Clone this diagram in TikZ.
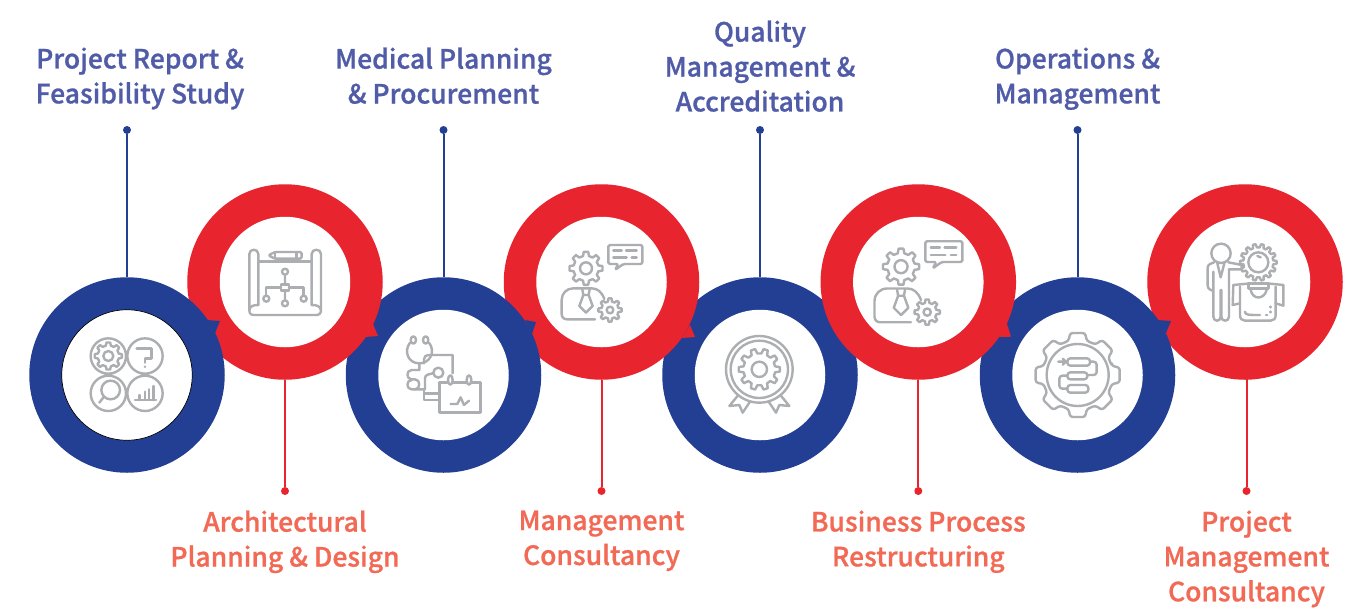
\documentclass[tikz,border=0pt]{standalone}
\usepackage{fontspec}
\newfontfamily\labfont[FakeBold=0.9]{Noto Sans CJK SC Medium}
\definecolor{ringblue}{HTML}{233F93}
\definecolor{ringred}{HTML}{E8242F}
\definecolor{textblue}{HTML}{505CA8}
\definecolor{textred}{HTML}{F26A55}
\definecolor{icongray}{HTML}{ACAEB1}
\tikzset{
  bluedisc/.style={circle,fill=ringblue,minimum size=195.5pt,inner sep=0pt},
  reddisc/.style={circle,fill=ringred,minimum size=195.5pt,inner sep=0pt},
  holedisc/.style={circle,fill=white,minimum size=130.5pt,inner sep=0pt},
  bluedot/.style={circle,fill=ringblue,minimum size=8pt,inner sep=0pt},
  reddot/.style={circle,fill=ringred,minimum size=8pt,inner sep=0pt},
  blueline/.style={draw=ringblue,line width=2pt},
  redline/.style={draw=ringred,line width=2pt},
  lab/.style={anchor=north,align=center,inner sep=0pt,
    font=\labfont\fontsize{26.5}{34.9}\selectfont,execute at begin node=\strut},
  bluelab/.style={lab,text=textblue},
  redlab/.style={lab,text=textred},
  icon/.style={draw=icongray,line width=2.4pt,line join=round,line cap=round,fill=none}
}
% gear centred at (#1,#2): outer radius #3, root radius #4, #5 teeth, hole radius #6
\newcommand{\gearicon}[6]{%
  \begin{scope}[shift={(#1,#2)}]
    \pgfmathsetmacro{\gstep}{360/#5}
    \pgfmathsetmacro{\gw}{\gstep*0.30}
    \pgfmathsetmacro{\gv}{\gstep*0.17}
    \draw[icon] (-\gw:#4)
      \foreach \gi in {1,...,#5}{
        -- ({(\gi-1)*\gstep-\gv}:#3) -- ({(\gi-1)*\gstep+\gv}:#3) -- ({(\gi-1)*\gstep+\gw}:#4) -- ({\gi*\gstep-\gw}:#4)
      } -- cycle;
    \draw[icon] (0,0) circle (#6);
  \end{scope}}
\newcommand{\personicon}{%
  \gearicon{678}{205}{50}{38}{8}{18}
  \gearicon{750}{330}{35}{26}{8}{10}
  \draw[icon] (705,358) -- (622,358) .. controls (611,358) and (605,352) .. (605,342) -- (605,300) .. controls (605,280) and (620,265) .. (640,265) -- (695,265) .. controls (712,265) and (725,275) .. (733,297);
  \draw[icon] (667,268) -- (670,285) -- (686,285) -- (689,268);
  \draw[icon] (670,285) -- (658,318) -- (678,338) -- (698,318) -- (686,285);
  \draw[icon,rounded corners=1.5pt] (775,192) -- (745,192) -- (745,135) -- (847,135) -- (847,192) -- (790,192) -- (765,210) -- cycle;
  \draw[icon] (760,152) -- (785,152) (798,152) -- (830,152) (760,173) -- (800,173) (815,173) -- (830,173);
}
\begin{document}
\begin{tikzpicture}[x=1pt,y=-1pt]
\useasboundingbox (0,0) rectangle (1371,614);
% discs, drawn so that each lies over the right neighbour
\node[bluedisc] (b3) at (760,375) {};
\node[reddisc] (r2) at (601.5,282) {};
\fill[ringred] (690,325) -- (695,337) -- (682,338) -- cycle;
\node[bluedisc] (b2) at (443.5,375) {};
\fill[ringblue] (525,320) -- (536,322) -- (532,334) -- cycle;
\node[reddisc] (r1) at (285,282) {};
\fill[ringred] (373,324) -- (378,336) -- (365,337) -- cycle;
\node[bluedisc] (b1) at (127,375) {};
\fill[ringblue] (207,320) -- (220,321) -- (215,333) -- cycle;
\node[reddisc] (r4) at (1245,282) {};
\node[bluedisc] (b4) at (1077.5,375) {};
\fill[ringblue] (1158,320) -- (1171,321) -- (1166,333) -- cycle;
\node[reddisc] (r3) at (918.3,282) {};
\fill[ringred] (1006.7,323) -- (1011,336.7) -- (998,337) -- cycle;
% holes
\node[holedisc,draw=black,line width=0.7pt] (h1) at (b1) {};
\node[holedisc] (h2) at (b2) {};
\node[holedisc] (h3) at (b3) {};
\node[holedisc] (h4) at (b4) {};
\node[holedisc] (k1) at (r1) {};
\node[holedisc] (k2) at (r2) {};
\node[holedisc] (k3) at (r3) {};
\node[holedisc] (k4) at (r4) {};
% stems
\node[bluedot] (dt1) at (127,130) {};
\node[bluedot] (dt2) at (443.5,130) {};
\node[bluedot] (dt3) at (760,130) {};
\node[bluedot] (dt4) at (1077.5,130) {};
\node[reddot] (db1) at (285,491) {};
\node[reddot] (db2) at (601.5,491) {};
\node[reddot] (db3) at (918.3,491) {};
\node[reddot] (db4) at (1246.5,491) {};
\draw[blueline] (dt1) -- (b1);
\draw[blueline] (dt2) -- (b2);
\draw[blueline] (dt3) -- (b3);
\draw[blueline] (dt4) -- (b4);
\draw[redline] (db1) -- (r1);
\draw[redline] (db2) -- (r2);
\draw[redline] (db3) -- (r3);
\coordinate (r4foot) at (1246.5,378);
\draw[redline] (db4) -- (r4foot);
% labels
\node[bluelab] (t1) at (140,47.3) {Project Report \&\\Feasibility Study};
\node[bluelab] (t2) at (443.5,47.3) {Medical Planning\\\& Procurement};
\node[bluelab] (t3) at (760,20.3) {Quality\\Management \&\\Accreditation};
\node[bluelab] (t4) at (1077.5,47.3) {Operations \&\\Management};
\node[redlab] (u1) at (285,510.3) {Architectural\\Planning \& Design};
\node[redlab] (u2) at (601.5,510.3) {Management\\Consultancy};
\node[redlab] (u3) at (918.3,510.3) {Business Process\\Restructuring};
\node[redlab] (u4) at (1246.5,510.3) {Project\\Management\\Consultancy};
% icon 1
\begin{scope}[shift={(20,180)},scale=1/3]
  \draw[icon] (265,528) circle (53) (375,528) circle (53) (265,640) circle (53) (375,640) circle (53);
  \gearicon{265}{528}{41}{32}{8}{15}
  \draw[icon] (350,505) -- (395,505) -- (395,535) -- (375,535) -- (375,548);
  \fill[icongray] (375,560) circle (4);
  \draw[icon] (272,630) circle (28) (252,650) -- (238,668);
  \draw[icon] (345,660) -- (408,660) (358,660) -- (358,645) (375,660) -- (375,635) (387,660) -- (387,628) (400,660) -- (400,618);
  % icon 2
  \draw[icon] (715,375) -- (715,222) .. controls (715,205) and (688,205) .. (688,222) -- (688,390) .. controls (688,400) and (692,405) .. (702,405) -- (888,405) .. controls (898,405) and (903,400) .. (903,390) -- (903,222) .. controls (903,205) and (875,205) .. (875,222) -- (875,375);
  \draw[icon] (688,390) .. controls (690,378) and (700,375) .. (715,375) (875,375) .. controls (890,375) and (900,378) .. (903,390);
  \draw[icon] (715,245) -- (875,245);
  \draw[icon,rounded corners=1.5pt] (745,226) -- (765,216) -- (845,216) -- (845,236) -- (765,236) -- cycle;
  \draw[icon] (765,216) -- (765,236) (830,216) -- (830,236);
  \draw[icon] (795,275) circle (9) (795,284) -- (795,313) (795,331) -- (795,361) (795,370) circle (9);
  \draw[icon] (783,313) rectangle (807,331);
  \draw[icon] (783,322) -- (738,322) -- (738,347) (807,322) -- (851,322) -- (851,347);
  \draw[icon] (739,356) circle (9) (851,356) circle (9);
\end{scope}
% icon 3 and icon 4
\begin{scope}[shift={(360,200)},scale=1/3]
  \draw[icon] (160,420) ellipse (8 and 11) (197,420) ellipse (8 and 11);
  \draw[icon] (150,428) .. controls (130,455) and (145,490) .. (178,490) .. controls (210,490) and (228,455) .. (207,428);
  \draw[icon] (178,490) -- (178,510) -- (155,510) .. controls (138,510) and (138,538) .. (155,538) -- (165,538) .. controls (182,538) and (182,568) .. (165,568) -- (155,568) .. controls (138,568) and (138,540) .. (155,540);
  \draw[icon] (165,568) -- (195,568) -- (195,535) .. controls (195,525) and (205,522) .. (220,520);
  \draw[icon] (235,518) circle (15);
  \draw[icon] (192,490) -- (192,478) .. controls (192,470) and (198,465) .. (205,465) -- (278,465) -- (278,520);
  \draw[icon] (192,568) -- (192,600) -- (235,600) (192,580) -- (235,580);
  \draw[icon] (262,548) -- (238,548) -- (238,638) -- (362,638) -- (362,548) -- (335,548) (280,548) -- (318,548);
  \draw[icon] (271,540) ellipse (7 and 14) (327,540) ellipse (7 and 14);
  \draw[icon] (272,612) -- (292,612) -- (302,592) -- (312,615) -- (327,602);
  \personicon
\end{scope}
% icon 5
\begin{scope}[shift={(690,220)},scale=1/3]
  \draw[icon] (208,448) circle (100) (208,448) circle (86);
  \gearicon{208}{448}{62}{48}{10}{23}
  \draw[icon] (145,525) -- (118,558) -- (148,555) -- (158,578) -- (180,545);
  \draw[icon] (271,525) -- (298,558) -- (268,555) -- (258,578) -- (236,545);
\end{scope}
% icon 6
\begin{scope}[shift={(654.7,192.2)},scale=1.09/3]
  \personicon
\end{scope}
% icon 7 and icon 8
\begin{scope}[shift={(1010,200)},scale=1/3]
  \begin{scope}[shift={(203,525)}]
    \draw[icon,rounded corners=2.5pt] (-15:106)
      \foreach \a in {0,45,...,315}{
        -- ({\a-10}:128) -- ({\a+10}:128) -- ({\a+15}:106) -- ({\a+30}:106)
      } -- cycle;
    \draw[icon] (0,0) circle (93);
  \end{scope}
  \draw[icon,rounded corners=3pt] (172,475) rectangle (240,497);
  \draw[icon,rounded corners=3pt] (172,517) rectangle (232,538);
  \draw[icon,rounded corners=3pt] (172,555) rectangle (235,578);
  \draw[icon,rounded corners=3pt] (240,485) -- (260,485) -- (260,525) -- (232,525);
  \draw[icon,rounded corners=3pt] (172,527) -- (148,527) -- (148,566) -- (172,566);
  \draw[icon] (145,485) -- (172,485) (158,476) -- (168,485) -- (158,494);
  % person
  \draw[icon] (633,160) circle (29);
  \draw[icon,rounded corners=2.5pt] (607,272) -- (593,265) -- (593,195) -- (612,187);
  \draw[icon] (610,215) -- (610,350) .. controls (610,366) and (632,366) .. (632,350) -- (632,270) (634,270) -- (634,350) .. controls (634,366) and (657,366) .. (657,350) -- (657,208);
  \draw[icon] (655,187) -- (695,195) -- (695,208) -- (657,208);
  \draw[icon] (622,190) -- (632,232) -- (643,190);
  % gear with bulb
  \gearicon{745}{187}{55}{45}{14}{30}
  \draw[icon] (742,168) -- (752,172);
  \draw[icon] (670,255) -- (722,250) (770,250) -- (820,255);
  \draw[icon] (670,255) -- (668,315) -- (690,310) (820,255) -- (820,317) -- (797,310);
  \draw[icon] (690,260) -- (690,345) .. controls (690,356) and (696,362) .. (705,362) -- (782,362) .. controls (791,362) and (797,356) .. (797,345) -- (797,260);
  \draw[icon] (716,250) -- (775,250) -- (775,265) -- (716,265) -- cycle;
  \draw[icon] (722,270) .. controls (728,300) and (762,300) .. (770,270);
  \draw[icon] (705,335) .. controls (705,345) and (715,345) .. (750,345);
  \draw[icon] (768,345) -- (772,345) (782,320) -- (782,322) (782,335) -- (782,337);
\end{scope}
\end{tikzpicture}
\end{document}
